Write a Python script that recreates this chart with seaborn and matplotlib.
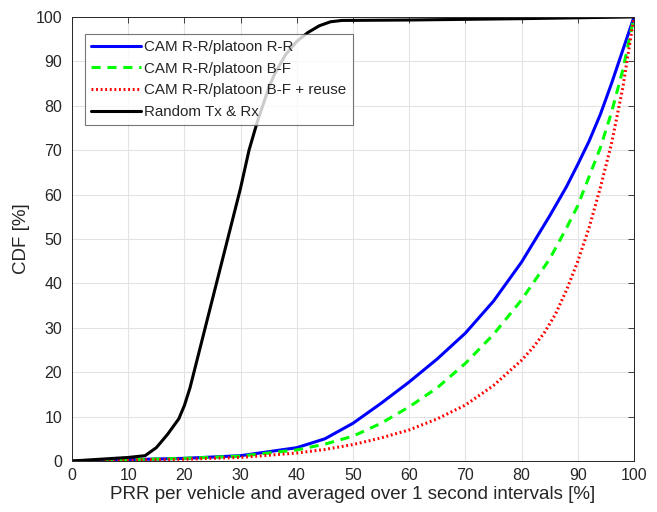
import numpy as np
import pandas as pd
import matplotlib
matplotlib.use("Agg")
import matplotlib.pyplot as plt
import seaborn as sns

# values (x = PRR [%], y = CDF [%])
x_rr = [0, 10, 20, 30, 40, 45, 50, 55, 60, 65, 70, 75, 80, 85, 88, 90, 92, 94, 96, 98, 100]
y_rr = [0, 0.3, 0.6, 1.2, 3.0, 5.0, 8.5, 13, 17.8, 23, 28.8, 36, 44.8, 55.2, 61.8, 66.8, 72, 78, 85, 92.5, 100]

x_bf = [0, 10, 20, 30, 40, 45, 50, 55, 60, 65, 70, 75, 80, 85, 88, 90, 92, 94, 96, 98, 100]
y_bf = [0, 0.3, 0.6, 1.1, 2.5, 3.8, 5.6, 8.5, 12.2, 16.5, 22, 28.5, 36.3, 45.5, 52.5, 57.5, 64, 70.5, 78.5, 88, 100]

x_reuse = [0, 10, 20, 30, 40, 45, 50, 55, 60, 65, 70, 75, 80, 82, 84, 86, 88, 90, 92, 94, 96, 98, 100]
y_reuse = [0, 0.2, 0.4, 0.8, 1.8, 2.6, 3.7, 5.2, 7.0, 9.5, 12.6, 17, 22.7, 25.5, 28.8, 33, 38.5, 45, 52.5, 61.5, 71.5, 84, 100]

x_rand = [0, 5, 10, 13, 15, 17, 19, 20, 21, 22, 23, 24, 25, 26, 28, 30, 31.5, 33, 35, 36,
          38, 40, 42, 44, 46, 48, 60, 80, 100]
y_rand = [0, 0.4, 0.8, 1.2, 3, 6, 9.5, 12.5, 16.5, 21.5, 26.5, 31.5, 36.5, 41.5, 51.5, 61.5, 70, 76.5, 84, 87,
          91.5, 94.5, 96.5, 98, 98.9, 99.2, 99.3, 99.6, 100]

labels = ["CAM R-R/platoon R-R", "CAM R-R/platoon B-F",
          "CAM R-R/platoon B-F + reuse", "Random Tx & Rx"]

series = [(x_rr, y_rr, "#0000ff", "-"),
          (x_bf, y_bf, "#00ff00", (0, (3, 2.2))),
          (x_reuse, y_reuse, "#ff0000", (0, (0.6, 0.9))),
          (x_rand, y_rand, "#000000", "-")]

sns.set_style("white")
plt.rcParams['font.family'] = ['Liberation Sans', 'DejaVu Sans']

fig = plt.figure(figsize=(6.57, 5.12), dpi=100)
ax = fig.add_axes([0.1096, 0.0996, 0.8554, 0.8674])

for (xs, ys, col, ls), lab in zip(series, labels):
    df = pd.DataFrame({"x": xs, "y": ys})
    sns.lineplot(data=df, x="x", y="y", ax=ax, color=col, linestyle=ls,
                 linewidth=2.2, label=lab, estimator=None, sort=True)

ax.set_xlim(0, 100)
ax.set_ylim(0, 100)
ax.set_xticks(np.arange(0, 101, 10))
ax.set_yticks(np.arange(0, 101, 10))
ax.grid(True, color="#e3e3e3", linewidth=0.8)
ax.set_axisbelow(True)
ax.tick_params(direction="in", length=4, width=0.6, top=True, right=True,
               labelsize=11.5, colors="#262626", labelcolor="#262626")
ax.tick_params(axis="y", pad=7)
ax.tick_params(axis="x", pad=5)
for sp in ax.spines.values():
    sp.set_color("#262626")
    sp.set_linewidth(0.7)

ax.set_xlabel("PRR per vehicle and averaged over 1 second intervals [%]",
              fontsize=13.5, color="#262626", labelpad=2)
ax.set_ylabel("CDF [%]", fontsize=13.5, color="#262626", labelpad=4)

leg = ax.legend(loc="upper left", bbox_to_anchor=(0.023, 0.962), fontsize=10.9,
                frameon=True, fancybox=False, handlelength=3.3, handletextpad=0.2,
                borderpad=0.42, labelspacing=0.5, borderaxespad=0)
leg.get_frame().set_edgecolor("#555555")
leg.get_frame().set_linewidth(0.8)

fig.savefig("out.png", dpi=100)
